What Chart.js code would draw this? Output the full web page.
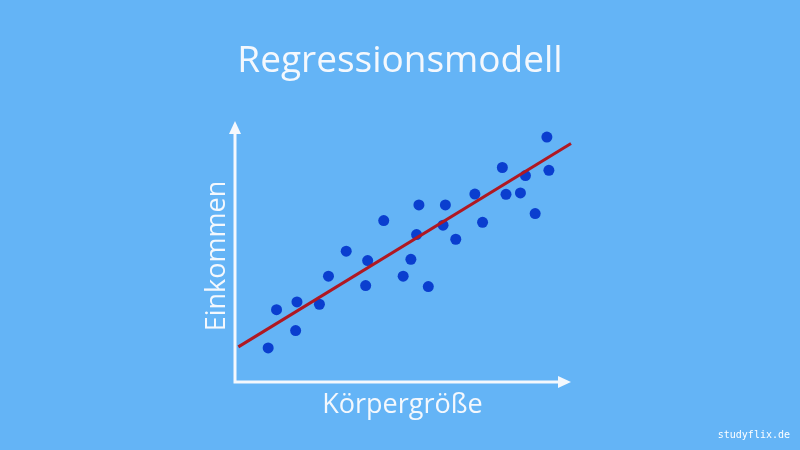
<!DOCTYPE html>
<html>
<head>
<meta charset="utf-8">
<script src="https://cdn.jsdelivr.net/npm/chart.js@4"></script>
<style>
  html, body { margin: 0; padding: 0; background: #64b4f6; }
  #wrap { width: 800px; height: 450px; }
</style>
</head>
<body>
<div id="wrap"><canvas id="chart"></canvas></div>
<script>
const chartTitle = "Regressionsmodell";
const xTitle = "Körpergröße";
const yTitle = "Einkommen";
const watermark = "studyflix.de";

// Körpergröße (x) und Einkommen (y), arbitrary units 0..100
const sizeValues = [9.9, 12.4, 18.1, 18.5, 25.2, 27.9, 33.2, 39.0, 39.6, 44.4, 50.2, 52.5, 54.2, 54.9,
  57.7, 62.1, 62.8, 65.9, 71.6, 73.9, 79.8, 80.9, 85.2, 86.7, 89.6, 93.1, 93.7];
const incomeValues = [13.1, 27.8, 19.8, 30.8, 29.9, 40.7, 50.3, 37.1, 46.7, 62.1, 40.7, 47.2, 56.7, 68.1,
  36.7, 60.3, 68.1, 54.9, 72.3, 61.4, 82.5, 72.2, 72.7, 79.4, 64.8, 94.2, 81.4];

// regression line end points
const lineX = [1.0, 100.3];
const lineY = [13.5, 91.7];

const textColor = "#f4f8fd";
const chartCanvas = document.getElementById("chart");

// draws title, axis arrows and axis titles
const decorations = {
  id: "decorations",
  beforeDatasetsDraw(chart) {
    const ctx = chart.ctx;
    const area = chart.chartArea;
    const left = area.left, bottom = area.bottom;
    ctx.save();
    ctx.strokeStyle = textColor;
    ctx.fillStyle = textColor;
    ctx.lineWidth = 3;
    ctx.beginPath();
    ctx.moveTo(left, bottom);
    ctx.lineTo(left, area.top + 8);
    ctx.moveTo(left - 1.5, bottom);
    ctx.lineTo(area.right - 8, bottom);
    ctx.stroke();
    // arrow heads
    ctx.beginPath();
    ctx.moveTo(left, area.top - 1);
    ctx.lineTo(left - 6, area.top + 12);
    ctx.lineTo(left + 6, area.top + 12);
    ctx.closePath();
    ctx.fill();
    ctx.beginPath();
    ctx.moveTo(area.right + 1, bottom);
    ctx.lineTo(area.right - 12, bottom - 6);
    ctx.lineTo(area.right - 12, bottom + 6);
    ctx.closePath();
    ctx.fill();
    ctx.restore();
  },
  afterDraw(chart) {
    const ctx = chart.ctx;
    const area = chart.chartArea;
    ctx.save();
    ctx.fillStyle = textColor;
    ctx.textAlign = "center";
    ctx.textBaseline = "middle";
    ctx.font = "37px 'Open Sans'";
    ctx.fillText(chartTitle, 400, 61);
    ctx.font = "27px 'Open Sans'";
    ctx.fillText(xTitle, (area.left + area.right) / 2, 405);
    ctx.translate(217, 256);
    ctx.rotate(-Math.PI / 2);
    ctx.fillText(yTitle, 0, 0);
    ctx.restore();
    ctx.save();
    ctx.fillStyle = "#ffffff";
    ctx.font = "10px 'DejaVu Sans Mono'";
    ctx.textAlign = "right";
    ctx.textBaseline = "middle";
    ctx.fillText(watermark, 790, 435);
    ctx.restore();
  }
};

new Chart(chartCanvas, {
  type: 'scatter',
  data: {
    datasets: [
      {
        label: "Regression",
        type: 'line',
        data: lineX.map((x, i) => ({ x: x, y: lineY[i] })),
        borderColor: '#b01822',
        borderWidth: 3,
        pointRadius: 0,
        clip: false,
        order: 1
      },
      {
        label: "Daten",
        data: sizeValues.map((x, i) => ({ x: x, y: incomeValues[i] })),
        backgroundColor: '#0a3ecf',
        borderWidth: 0,
        pointRadius: 5.5,
        order: 2
      }
    ]
  },
  options: {
    responsive: true,
    maintainAspectRatio: false,
    animation: false,
    layout: { padding: { left: 235, right: 230, top: 122, bottom: 68 } },
    scales: {
      x: { type: 'linear', min: 0, max: 100, display: false },
      y: { type: 'linear', min: 0, max: 100, display: false }
    },
    plugins: {
      legend: { display: false },
      tooltip: { enabled: false }
    }
  },
  plugins: [decorations]
});
</script>
</body>
</html>
